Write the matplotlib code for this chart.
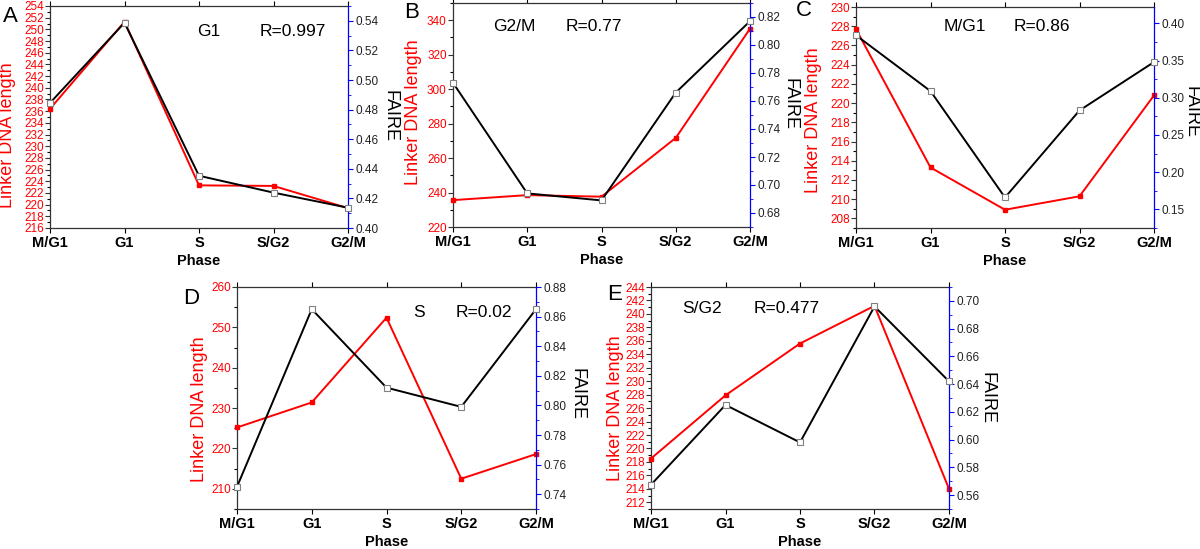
import matplotlib
matplotlib.use('Agg')
import matplotlib.pyplot as plt
from matplotlib.ticker import MultipleLocator, FormatStrFormatter

plt.rcParams['font.family'] = ['Liberation Sans', 'DejaVu Sans']

phases = ['M/G1', 'G1', 'S', 'S/G2', 'G2/M']

# linker DNA length (left axis, red)
linker_A = [236.4, 251.3, 223.3, 223.2, 219.4]
linker_B = [235.6, 238.5, 237.6, 271.7, 335.1]
linker_C = [227.7, 213.3, 208.9, 210.3, 220.8]
linker_D = [225.2, 231.4, 252.4, 212.5, 218.6]
linker_E = [218.5, 227.9, 235.6, 241.2, 214.0]

# FAIRE (right axis, black)
faire_A = [0.4845, 0.5387, 0.4353, 0.4239, 0.4137]
faire_B = [0.773, 0.694, 0.689, 0.766, 0.817]
faire_C = [0.384, 0.309, 0.166, 0.283, 0.348]
faire_D = [0.745, 0.865, 0.812, 0.799, 0.865]
faire_E = [0.5675, 0.625, 0.598, 0.696, 0.642]

letters = ['A', 'B', 'C', 'D', 'E']
titles = ['G1', 'G2/M', 'M/G1', 'S', 'S/G2']
r_vals = ['R=0.997', 'R=0.77', 'R=0.86', 'R=0.02', 'R=0.477']

W, H = 1200, 549
fig = plt.figure(figsize=(W / 100, H / 100), dpi=100)

# pixel boxes: left, right, top, bottom
boxes = [(50, 348, 6, 228), (453, 750, 3, 227), (856, 1154, 7, 228),
         (237, 536, 287, 509), (651, 949, 287, 509)]
left_lims = [(216, 254), (220, 350), (207, 230), (205, 260), (211, 244)]
left_major = [2, 20, 2, 10, 2]
left_minor = [1, 10, 1, 5, 1]
right_lims = [(0.40, 0.55), (0.67, 0.83), (0.125, 0.422), (0.73, 0.88), (0.55, 0.71)]
right_major = [0.02, 0.02, 0.05, 0.02, 0.02]
right_minor = [0.01, 0.01, 0.025, 0.01, 0.01]
# subtitle x, R x, text y (axes fraction)
txt_pos = [(0.493, 0.705, 0.887), (0.134, 0.38, 0.893), (0.295, 0.53, 0.91),
           (0.59, 0.73, 0.883), (0.103, 0.343, 0.905)]
# label placement: left label x offset px, y frac; right label offset px, y frac
ylab_l = [(-42, 0.42), (-40, 0.513), (-43, 0.489), (-37, 0.45), (-36, 0.455)]
ylab_r = [(42, 0.505), (40, 0.55), (37, 0.525), (41, 0.518), (38, 0.5)]
letter_pos = [(3, 16), (404, 13), (796, 11), (183, 298), (607, 295)]

linker = [linker_A, linker_B, linker_C, linker_D, linker_E]
faire = [faire_A, faire_B, faire_C, faire_D, faire_E]

x = list(range(len(phases)))

for i in range(5):
    l, r, t, b = boxes[i]
    w, h = r - l, b - t
    ax = fig.add_axes([l / W, 1 - b / H, w / W, h / H])
    ax2 = ax.twinx()

    ax.plot(x, linker[i], color='red', lw=1.4, marker='s', ms=3.5,
            mfc='red', mec='red', zorder=3, clip_on=False)
    ax2.plot(x, faire[i], color='black', lw=1.4, marker='s', ms=4,
             mfc='white', mec='gray', mew=0.8, zorder=3, clip_on=False)

    ax.set_xlim(0, 4)
    ax.set_ylim(*left_lims[i])
    ax2.set_ylim(*right_lims[i])
    ax.set_xticks(x)
    ax.set_xticklabels(phases, fontweight='bold', fontsize=10.5)

    ax.yaxis.set_major_locator(MultipleLocator(left_major[i]))
    ax.yaxis.set_minor_locator(MultipleLocator(left_minor[i]))
    ax2.yaxis.set_major_locator(MultipleLocator(right_major[i]))
    ax2.yaxis.set_minor_locator(MultipleLocator(right_minor[i]))
    ax2.yaxis.set_major_formatter(FormatStrFormatter('%.2f'))

    ax.tick_params(axis='y', colors='#333333', labelcolor='red', labelsize=8.5,
                   length=3.5, width=0.8, pad=1)
    ax.tick_params(axis='y', which='minor', length=2, width=0.8)
    ax.tick_params(axis='x', length=3.5, width=0.8, pad=2, top=True)
    ax2.tick_params(axis='y', colors='blue', labelcolor='#222222', labelsize=8.5,
                    length=3.5, width=0.8, pad=2)
    ax2.tick_params(axis='y', which='minor', length=2, colors='blue')

    for s in ['left', 'bottom', 'top']:
        ax.spines[s].set_color('#333333')
        ax.spines[s].set_linewidth(0.9)
    ax.spines['right'].set_visible(False)
    ax2.spines['left'].set_visible(False)
    ax2.spines['bottom'].set_visible(False)
    ax2.spines['top'].set_visible(False)
    ax2.spines['right'].set_color('blue')
    ax2.spines['right'].set_linewidth(0.9)

    ax.set_xlabel('Phase', fontweight='bold', fontsize=10.5, va='center')
    ax.xaxis.set_label_coords(0.5, -33 / h)

    ox, oy = ylab_l[i]
    ax.set_ylabel('Linker DNA length', color='red', fontsize=13,
                  va='center', ha='center')
    ax.yaxis.set_label_coords(ox / w, oy)
    ox, oy = ylab_r[i]
    ax2.set_ylabel('FAIRE', color='black', fontsize=13, rotation=-90,
                   va='center', ha='center')
    ax2.yaxis.set_label_coords(1 + ox / w, oy)

    sx, rx, ty = txt_pos[i]
    ax.text(sx, ty, titles[i], transform=ax.transAxes, fontsize=12.5,
            ha='left', va='center', zorder=5)
    ax.text(rx, ty, r_vals[i], transform=ax.transAxes, fontsize=12.5,
            ha='left', va='center', zorder=5)

    px, py = letter_pos[i]
    fig.text(px / W, 1 - py / H, letters[i], fontsize=16,
             ha='left', va='center')

fig.savefig('out.png', dpi=100)
